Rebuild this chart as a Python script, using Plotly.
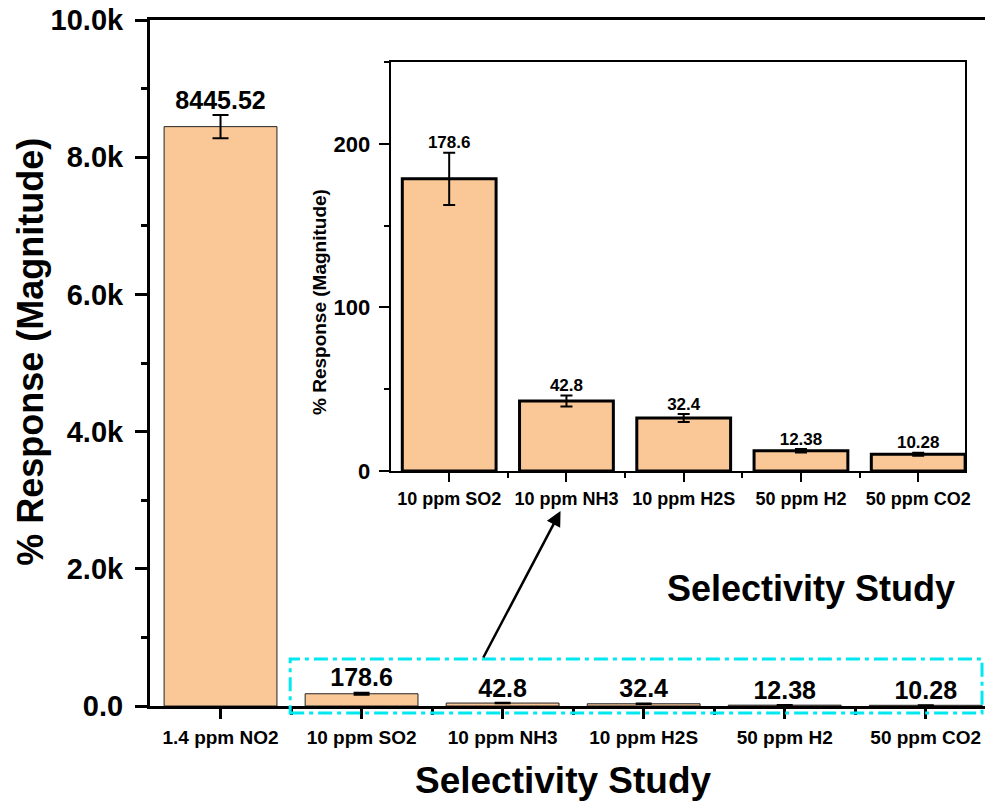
import plotly.graph_objects as go

# ---------------- data ----------------
main_categories = ["1.4 ppm NO2", "10 ppm SO2", "10 ppm NH3", "10 ppm H2S", "50 ppm H2", "50 ppm CO2"]
main_values = [8445.52, 178.6, 42.8, 32.4, 12.38, 10.28]
main_errors = [170, 16, 3.4, 2.5, 1.0, 0.9]

inset_categories = ["10 ppm SO2", "10 ppm NH3", "10 ppm H2S", "50 ppm H2", "50 ppm CO2"]
inset_values = [178.6, 42.8, 32.4, 12.38, 10.28]
inset_errors = [16, 3.4, 2.5, 1.0, 0.9]

main_ytick_vals = [0, 2000, 4000, 6000, 8000, 10000]
main_ytick_text = ["0.0", "2.0k", "4.0k", "6.0k", "8.0k", "10.0k"]
inset_ytick_vals = [0, 100, 200]

FONT = "Liberation Sans, Arial, sans-serif"
BAR = "#FAC897"

mx = list(range(len(main_categories)))
ix = list(range(len(inset_categories)))

fig = go.Figure()

# main bars
fig.add_trace(go.Bar(
    x=mx, y=main_values, width=0.8,
    marker=dict(color=BAR, line=dict(color="#222222", width=1)),
    error_y=dict(type="data", array=main_errors, color="black", thickness=2, width=8),
    xaxis="x", yaxis="y", showlegend=False,
))
fig.add_trace(go.Scatter(
    x=mx, y=[v + e for v, e in zip(main_values, main_errors)],
    text=[str(v) for v in main_values], mode="text", textposition="top center",
    textfont=dict(family=FONT, size=25, color="black", weight="bold"),
    xaxis="x", yaxis="y", showlegend=False, cliponaxis=False,
))

# inset bars
fig.add_trace(go.Bar(
    x=ix, y=inset_values, width=0.8,
    marker=dict(color=BAR, line=dict(color="black", width=3)),
    error_y=dict(type="data", array=inset_errors, color="black", thickness=2, width=6),
    xaxis="x2", yaxis="y2", showlegend=False,
))
fig.add_trace(go.Scatter(
    x=ix, y=[v + e for v, e in zip(inset_values, inset_errors)],
    text=[str(v) for v in inset_values], mode="text", textposition="top center",
    textfont=dict(family=FONT, size=17, color="black", weight="bold"),
    xaxis="x2", yaxis="y2", showlegend=False, cliponaxis=False,
))

W, H = 991, 805
L, R, T, B = 150, 1, 20, 99
pw, ph = W - L - R, H - T - B

def px(x):
    return (x - L) / pw

def py(y):
    return (T + ph - y) / ph

fig.update_layout(
    width=W, height=H,
    margin=dict(l=L, r=R, t=T, b=B),
    paper_bgcolor="white", plot_bgcolor="white",
    font=dict(family=FONT, color="black"),
    bargap=0.2,
    xaxis=dict(
        domain=[0, 1], range=[-0.5, 5.42],
        tickvals=mx, ticktext=main_categories,
        tickfont=dict(size=19, weight="bold", family=FONT),
        showline=True, linecolor="black", linewidth=3, mirror=True,
        ticks="outside", ticklen=10, tickwidth=3, tickcolor="black",
        minor=dict(tickvals=[i + 0.5 for i in mx[:-1]], ticks="outside", ticklen=6, tickwidth=3, tickcolor="black"),
        showgrid=False, zeroline=False, ticklabelstandoff=2,
    ),
    yaxis=dict(
        domain=[0, 1], range=[0, 10000],
        tickvals=main_ytick_vals, ticktext=main_ytick_text,
        tickfont=dict(size=29, weight="bold", family=FONT),
        showline=True, linecolor="black", linewidth=3,
        ticks="outside", ticklen=12, tickwidth=3, tickcolor="black",
        minor=dict(tickvals=[1000, 3000, 5000, 7000, 9000], ticks="outside", ticklen=6, tickwidth=3, tickcolor="black"),
        showgrid=False, zeroline=False, ticklabelstandoff=6,
    ),
    xaxis2=dict(
        domain=[px(392), px(970)], range=[-0.5, 4.4], anchor="y2",
        tickvals=ix, ticktext=inset_categories,
        tickfont=dict(size=18, weight="bold", family=FONT),
        showline=True, linecolor="black", linewidth=2, mirror=True,
        ticks="outside", ticklen=9, tickwidth=2, tickcolor="black",
        minor=dict(tickvals=[i + 0.5 for i in ix[:-1]], ticks="outside", ticklen=5, tickwidth=2, tickcolor="black"),
        showgrid=False, zeroline=False, ticklabelstandoff=1,
    ),
    yaxis2=dict(
        domain=[py(471), py(62)], range=[0, 250], anchor="x2",
        tickvals=inset_ytick_vals,
        tickfont=dict(size=22, weight="bold", family=FONT),
        showline=True, linecolor="black", linewidth=2, mirror=True,
        ticks="outside", ticklen=10, tickwidth=2, tickcolor="black",
        minor=dict(tickvals=[50, 150, 250], ticks="outside", ticklen=5, tickwidth=2, tickcolor="black"),
        showgrid=False, zeroline=False, ticklabelstandoff=4,
    ),
    shapes=[dict(
        type="rect", xref="paper", yref="paper",
        x0=px(291), x1=px(987), y0=py(713), y1=py(659),
        line=dict(color="#00E8F0", width=3, dash="14px,5px,4px,5px"),
        fillcolor="rgba(0,0,0,0)", layer="above",
    )],
    annotations=[
        dict(text="% Response (Magnitude)", xref="paper", yref="paper",
             x=px(29), y=py(352), textangle=-90, showarrow=False,
             xanchor="center", yanchor="middle",
             font=dict(size=36, weight="bold", family=FONT)),
        dict(text="Selectivity Study", xref="paper", yref="paper",
             x=px(566), y=py(780), showarrow=False,
             xanchor="center", yanchor="middle",
             font=dict(size=37, weight="bold", family=FONT)),
        dict(text="Selectivity Study", xref="paper", yref="paper",
             x=px(815), y=py(588), showarrow=False,
             xanchor="center", yanchor="middle",
             font=dict(size=36, weight="bold", family=FONT)),
        dict(text="% Response (Magnitude)", xref="paper", yref="paper",
             x=px(320), y=py(302), textangle=-90, showarrow=False,
             xanchor="center", yanchor="middle",
             font=dict(size=19, weight="bold", family=FONT)),
        dict(text="", xref="paper", yref="paper",
             x=px(563), y=py(511), ax=485 - 563, ay=659 - 511,
             showarrow=True, arrowhead=2, arrowsize=1.2, arrowwidth=2.5, arrowcolor="black"),
    ],
)

fig.write_html(
    "out.html",
    config={"displayModeBar": False},
    post_script="document.body.style.margin='0';document.body.style.overflow='hidden';",
)
